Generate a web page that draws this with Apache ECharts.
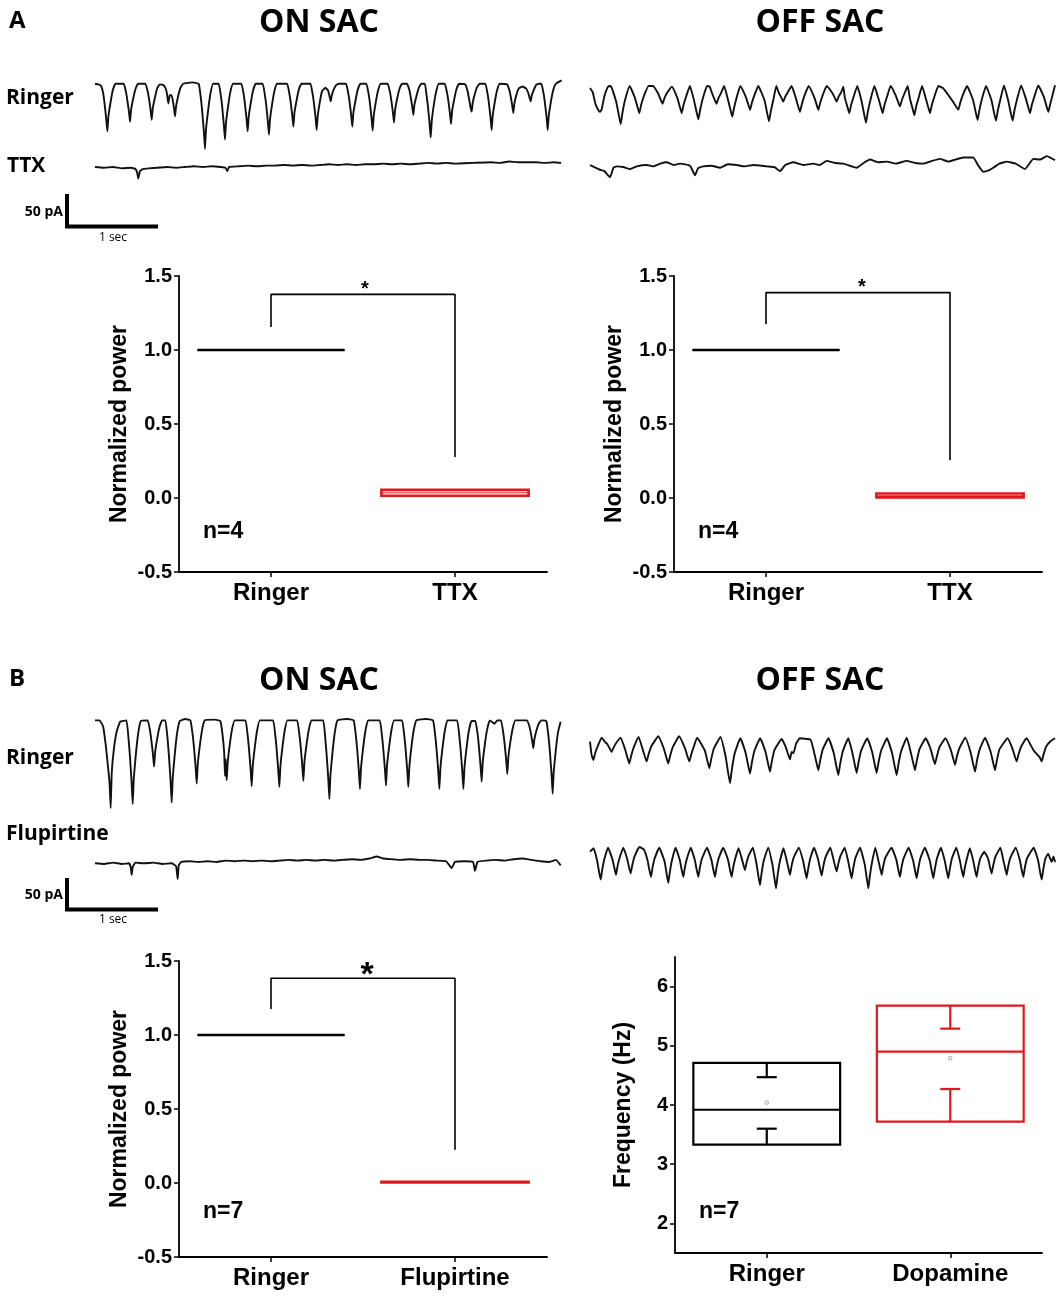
<!DOCTYPE html>
<html>
<head>
<meta charset="UTF-8">
<script src="https://cdn.jsdelivr.net/npm/echarts@6/dist/echarts.min.js"></script>
<title>SAC waves</title>
<style>
  body { margin: 0; background: #fff; }
  #main { width: 1064px; height: 1300px; }
</style>
</head>
<body>
<div id="main"></div>
<script type="text/javascript">
// ---- recordings: [time (s), current (pA)] ----
var onRingerA = [[0,-3],[0.04,-4],[0.067,-6],[0.092,-18],[0.107,-33],[0.125,-55],[0.137,-73],[0.149,-51],[0.172,-31],[0.197,-13],[0.227,-3],
  [0.319,-3],[0.344,-15],[0.359,-27],[0.377,-44],[0.389,-59],[0.401,-41],[0.424,-25],[0.449,-11],[0.479,-3],
  [0.56,-3],[0.585,-14],[0.60,-25],[0.618,-42],[0.63,-56],[0.642,-39],[0.665,-24],[0.69,-10],[0.72,-4],
  [0.76,-5],[0.785,-10],[0.80,-18],[0.815,-32],[0.83,-20],[0.85,-20],[0.865,-28],[0.877,-38],[0.889,-51],[0.901,-36],[0.924,-21],[0.949,-9],[0.979,-3],[1.08,-1],
  [1.152,-3],[1.177,-25],[1.192,-45],[1.21,-74],[1.222,-99],[1.234,-69],[1.257,-42],[1.282,-18],[1.312,-3],
  [1.374,-3],[1.399,-21],[1.414,-38],[1.432,-64],[1.444,-85],[1.456,-60],[1.479,-36],[1.504,-15],[1.534,-3],
  [1.626,-3],[1.651,-18],[1.666,-33],[1.684,-55],[1.696,-73],[1.708,-51],[1.731,-31],[1.756,-13],[1.786,-3],
  [1.863,-3],[1.888,-20],[1.903,-35],[1.921,-59],[1.933,-78],[1.945,-55],[1.968,-33],[1.993,-14],[2.023,-3],
  [2.134,-3],[2.159,-17],[2.174,-30],[2.192,-50],[2.204,-66],[2.216,-46],[2.239,-28],[2.264,-12],[2.294,-3],
  [2.393,-3],[2.418,-18],[2.433,-32],[2.451,-53],[2.463,-71],[2.475,-50],[2.498,-30],[2.523,-14],[2.56,-9],[2.59,-13],[2.607,-22],[2.619,-29],[2.631,-20],[2.654,-11],[2.68,-5],[2.71,-3],
  [2.789,-3],[2.814,-17],[2.829,-30],[2.847,-50],[2.859,-66],[2.871,-46],[2.894,-28],[2.919,-12],[2.949,-3],
  [3.015,-3],[3.04,-18],[3.055,-32],[3.073,-54],[3.085,-72],[3.097,-50],[3.12,-30],[3.145,-13],[3.175,-3],
  [3.252,-3],[3.277,-15],[3.292,-27],[3.31,-45],[3.322,-60],[3.334,-42],[3.357,-25],[3.382,-11],[3.412,-3],
  [3.467,-3],[3.492,-12],[3.507,-22],[3.525,-37],[3.537,-49],[3.549,-34],[3.572,-21],[3.597,-9],[3.627,-3],
  [3.665,-3],[3.685,-21],[3.70,-37],[3.718,-62],[3.73,-82],[3.742,-57],[3.765,-34],[3.79,-15],[3.82,-3],
  [3.886,-3],[3.911,-16],[3.926,-28],[3.944,-47],[3.956,-62],[3.968,-43],[3.991,-26],[4.016,-11],[4.046,-3],
  [4.115,-4],[4.14,-14],[4.16,-28],[4.173,-38],[4.185,-44],[4.197,-31],[4.22,-18],[4.245,-8],[4.275,-3],
  [4.337,-3],[4.362,-18],[4.377,-32],[4.395,-53],[4.407,-71],[4.419,-50],[4.442,-30],[4.467,-13],[4.497,-3],
  [4.578,-4],[4.603,-12],[4.618,-21],[4.636,-35],[4.648,-46],[4.66,-32],[4.683,-19],[4.708,-10],[4.75,-7],[4.79,-10],[4.815,-17],[4.829,-24],[4.841,-29],[4.853,-20],[4.876,-12],[4.9,-5],[4.93,-3],
  [4.96,-3],[4.985,-18],[5.0,-32],[5.018,-53],[5.03,-71],[5.042,-50],[5.065,-30],[5.09,-13],[5.12,-3],[5.185,2]];
var onTtxA = [[0,0],[0.1,-1],[0.2,0],[0.3,-2],[0.4,-1],[0.45,-3],[0.47,-9],[0.48,-17],[0.50,-6],[0.53,-3],[0.6,-2],[0.7,-1],[0.8,0],[0.9,-1],[1.0,0],[1.1,1],[1.2,0],[1.3,1],[1.4,0],[1.45,-1],[1.47,-6],[1.49,0],[1.6,1],[1.7,2],[1.8,1],[1.9,2],[2.0,2],[2.1,3],[2.2,2],[2.3,3],[2.4,2],[2.5,3],[2.6,4],[2.7,3],[2.8,4],[2.9,3],[3.0,4],[3.1,4],[3.2,5],[3.3,4],[3.4,5],[3.5,4],[3.6,5],[3.7,6],[3.8,5],[3.9,6],[4.0,5],[4.2,6],[4.4,7],[4.5,6],[4.6,8],[4.7,7],[4.8,7],[4.9,7],[5.0,6],[5.1,7],[5.18,6]];
var offRingerA = [[0,-2],[0.03,-8],[0.06,-25],[0.09,-34],[0.111,-37],[0.13,-33],[0.16,-14],[0.2,0],[0.23,1],
  [0.291,-22],[0.319,-41],[0.341,-55],[0.361,-38],[0.391,-19],[0.44,1],
  [0.498,-16],[0.526,-29],[0.548,-39],[0.568,-27],[0.598,-14],[0.65,1],[0.70,1],
  [0.757,-10],[0.785,-19],[0.807,-25],[0.827,-17],[0.857,-9],[0.91,0],
  [0.969,-16],[0.997,-29],[1.019,-39],[1.039,-27],[1.069,-14],[1.11,1],
  [1.154,-19],[1.182,-36],[1.204,-48],[1.224,-34],[1.254,-17],[1.30,1],[1.33,0],
  [1.357,-10],[1.385,-19],[1.407,-25],[1.427,-17],[1.457,-9],[1.49,1],
  [1.531,-18],[1.559,-33],[1.581,-44],[1.601,-31],[1.631,-15],[1.67,1],
  [1.728,-14],[1.756,-25],[1.778,-34],[1.798,-24],[1.828,-12],[1.87,1],
  [1.939,-20],[1.967,-38],[1.989,-51],[2.009,-36],[2.039,-18],[2.07,1],
  [2.098,-9],[2.126,-16],[2.148,-22],[2.168,-15],[2.198,-8],[2.24,1],
  [2.283,-15],[2.311,-28],[2.333,-37],[2.353,-26],[2.383,-13],[2.43,1],
  [2.487,-14],[2.515,-25],[2.537,-34],[2.557,-24],[2.587,-12],[2.63,1],
  [2.691,-9],[2.719,-16],[2.741,-22],[2.761,-15],[2.791,-8],[2.815,0],
  [2.831,-16],[2.859,-29],[2.881,-39],[2.901,-27],[2.931,-14],[2.97,1],
  [3.017,-21],[3.045,-40],[3.067,-53],[3.087,-37],[3.117,-19],[3.16,1],
  [3.202,-16],[3.23,-29],[3.252,-39],[3.272,-27],[3.302,-14],[3.34,1],
  [3.394,-12],[3.422,-22],[3.444,-29],[3.464,-20],[3.494,-10],[3.53,1],
  [3.554,-17],[3.582,-31],[3.604,-42],[3.624,-29],[3.654,-15],[3.69,1],
  [3.728,-16],[3.756,-29],[3.778,-39],[3.798,-27],[3.828,-14],[3.87,1],[3.92,-2],
  [3.98,-12],[4.043,-24],[4.071,-30],[4.093,-34],[4.113,-24],[4.143,-12],[4.19,1],
  [4.257,-20],[4.285,-37],[4.307,-49],[4.327,-34],[4.357,-17],[4.40,1],
  [4.461,-20],[4.489,-38],[4.511,-50],[4.531,-35],[4.561,-18],[4.60,2],
  [4.646,-20],[4.674,-38],[4.696,-50],[4.716,-35],[4.746,-18],[4.79,2],
  [4.839,-16],[4.867,-29],[4.889,-39],[4.909,-27],[4.939,-14],[4.98,2],
  [5.043,-15],[5.071,-28],[5.093,-37],[5.113,-26],[5.14,-12],[5.167,2]];
var offTtxA = [[0,0],[0.06,-4],[0.111,-7],[0.16,-9],[0.222,-18],[0.26,-4],[0.296,-2],[0.37,-3],[0.444,-6],[0.52,-2],[0.63,0],[0.70,-2],[0.78,2],[0.852,4],[0.93,0],[1.0,2],[1.111,-1],[1.167,-15],[1.20,-5],[1.259,-2],[1.35,-1],[1.444,-4],[1.53,1],[1.63,0],[1.72,-2],[1.815,0],[1.963,-2],[2.05,-3],[2.111,-9],[2.17,0],[2.259,4],[2.37,0],[2.481,2],[2.55,0],[2.63,6],[2.72,3],[2.815,2],[2.963,-4],[3.04,3],[3.111,8],[3.2,4],[3.296,5],[3.40,2],[3.519,6],[3.61,3],[3.704,2],[3.80,6],[3.889,9],[3.98,5],[4.06,8],[4.148,11],[4.259,11],[4.31,0],[4.37,-10],[4.43,-8],[4.481,-4],[4.55,2],[4.63,5],[4.73,2],[4.833,-6],[4.926,9],[5.0,8],[5.074,13],[5.167,7]];
var onRingerB = [[0,-3],[0.05,-3],[0.09,-12],[0.12,-40],[0.148,-76],[0.162,-95],[0.174,-132],[0.186,-80],[0.21,-45],[0.24,-20],[0.28,-5],
  [0.349,-3],[0.374,-32],[0.389,-57],[0.407,-95],[0.419,-126],[0.431,-88],[0.454,-53],[0.479,-23],[0.509,-4],
  [0.586,-3],[0.611,-18],[0.626,-32],[0.644,-53],[0.656,-71],[0.668,-50],[0.691,-30],[0.716,-13],[0.746,-3],
  [0.782,-3],[0.807,-31],[0.822,-56],[0.84,-93],[0.852,-124],[0.864,-87],[0.887,-52],[0.912,-22],[0.942,-4],[1.0,-1],
  [1.06,-3],[1.085,-24],[1.10,-43],[1.118,-72],[1.13,-96],[1.142,-67],[1.165,-40],[1.19,-17],[1.22,-3],[1.33,-2],
  [1.393,-4],[1.418,-25],[1.435,-50],[1.445,-85],[1.452,-60],[1.463,-91],[1.475,-64],[1.498,-38],[1.523,-16],[1.553,-3],
  [1.671,-3],[1.696,-25],[1.711,-45],[1.729,-75],[1.741,-100],[1.753,-70],[1.776,-42],[1.801,-18],[1.831,-3],
  [1.978,-3],[2.003,-25],[2.018,-45],[2.036,-76],[2.048,-101],[2.06,-71],[2.083,-42],[2.108,-18],[2.138,-3],
  [2.245,-3],[2.27,-23],[2.285,-41],[2.303,-69],[2.315,-92],[2.327,-64],[2.35,-39],[2.375,-17],[2.405,-3],
  [2.534,-3],[2.559,-30],[2.574,-54],[2.592,-89],[2.604,-119],[2.616,-83],[2.639,-50],[2.664,-21],[2.694,-3],[2.8,-1],
  [2.874,-3],[2.899,-26],[2.914,-47],[2.932,-78],[2.944,-104],[2.956,-73],[2.979,-44],[3.004,-19],[3.034,-3],
  [3.163,-3],[3.188,-25],[3.203,-45],[3.221,-74],[3.233,-99],[3.245,-69],[3.268,-42],[3.293,-18],[3.323,-3],
  [3.411,-3],[3.436,-25],[3.451,-45],[3.469,-76],[3.481,-101],[3.493,-71],[3.516,-42],[3.541,-18],[3.571,-3],[3.68,-1],
  [3.756,-3],[3.781,-26],[3.796,-47],[3.814,-78],[3.826,-104],[3.838,-73],[3.861,-44],[3.886,-19],[3.916,-3],
  [4.023,-3],[4.048,-26],[4.063,-47],[4.081,-78],[4.093,-104],[4.105,-73],[4.128,-44],[4.153,-19],[4.183,-4],
  [4.226,-4],[4.251,-23],[4.266,-42],[4.284,-70],[4.296,-93],[4.308,-65],[4.331,-39],[4.356,-17],[4.386,-3],[4.44,-8],[4.47,-3],
  [4.511,-3],[4.536,-21],[4.551,-37],[4.569,-62],[4.581,-82],[4.593,-57],[4.616,-34],[4.641,-15],[4.671,-3],
  [4.80,-3],[4.825,-11],[4.84,-20],[4.858,-33],[4.87,-44],[4.882,-31],[4.905,-18],[4.93,-8],[4.96,-3],
  [5.015,-4],[5.04,-28],[5.055,-50],[5.073,-83],[5.085,-111],[5.097,-78],[5.12,-47],[5.145,-20],[5.174,-5]];
var flupirtineB = [[0,0],[0.1,-1],[0.2,1],[0.3,-1],[0.38,0],[0.40,-8],[0.407,-17],[0.42,-5],[0.45,1],[0.55,0],[0.65,1],[0.75,-1],[0.85,0],[0.90,-4],[0.919,-23],[0.93,-3],[0.96,2],[1.05,3],[1.15,2],[1.25,3],[1.35,2],[1.45,4],[1.55,3],[1.65,4],[1.75,3],[1.85,4],[1.95,3],[2.05,4],[2.15,5],[2.25,4],[2.35,5],[2.45,4],[2.55,5],[2.65,4],[2.75,5],[2.85,6],[2.95,5],[3.05,7],[3.13,10],[3.2,7],[3.3,6],[3.4,5],[3.5,6],[3.6,5],[3.7,5],[3.8,4],[3.9,3],[3.963,-7],[4.0,2],[4.1,3],[4.2,2],[4.222,-11],[4.25,2],[4.35,4],[4.45,5],[4.55,4],[4.65,6],[4.75,7],[4.85,5],[4.95,3],[5.05,2],[5.12,5],[5.174,-3]];
var offRingerB = [[0,-5],[0.017,-24],[0.037,-32],[0.057,-22],[0.087,-11],[0.13,1],
  [0.17,-6],[0.19,-8],[0.219,-15],[0.241,-20],[0.261,-14],[0.291,-7],[0.34,1],
  [0.387,-15],[0.415,-28],[0.437,-37],[0.457,-26],[0.487,-13],[0.54,2],
  [0.58,-14],[0.608,-26],[0.63,-34],[0.65,-24],[0.68,-12],[0.76,3],
  [0.82,-15],[0.848,-28],[0.87,-37],[0.89,-26],[0.92,-13],[0.99,3],
  [1.054,-14],[1.082,-26],[1.104,-34],[1.124,-24],[1.154,-12],[1.19,1],
  [1.276,-18],[1.304,-33],[1.326,-44],[1.346,-31],[1.376,-15],[1.45,2],
  [1.506,-26],[1.534,-50],[1.556,-66],[1.576,-46],[1.606,-23],[1.67,0],
  [1.728,-21],[1.756,-39],[1.778,-52],[1.798,-36],[1.828,-18],[1.89,0],
  [1.95,-20],[1.978,-37],[2.0,-49],[2.02,-34],[2.05,-17],[2.13,-1],
  [2.172,-12],[2.20,-23],[2.222,-31],[2.24,-20],[2.26,-22],[2.29,-8],[2.33,0],[2.45,-2],
  [2.487,-19],[2.515,-35],[2.537,-47],[2.557,-33],[2.587,-16],[2.65,0],
  [2.709,-22],[2.737,-41],[2.759,-54],[2.779,-38],[2.809,-19],[2.87,0],
  [2.913,-20],[2.941,-38],[2.963,-51],[2.983,-36],[3.013,-18],[3.08,0],
  [3.135,-20],[3.163,-38],[3.185,-51],[3.205,-36],[3.235,-18],[3.30,0],
  [3.357,-22],[3.385,-41],[3.407,-54],[3.427,-38],[3.457,-19],[3.52,1],
  [3.561,-19],[3.589,-35],[3.611,-47],[3.631,-33],[3.661,-16],[3.73,0],
  [3.783,-15],[3.811,-29],[3.833,-38],[3.853,-27],[3.883,-13],[3.95,0],
  [4.006,-16],[4.034,-29],[4.056,-39],[4.076,-27],[4.106,-14],[4.17,1],
  [4.228,-20],[4.256,-37],[4.278,-49],[4.298,-34],[4.328,-17],[4.39,1],
  [4.45,-19],[4.478,-35],[4.5,-47],[4.52,-33],[4.55,-16],[4.64,0],
  [4.691,-14],[4.719,-26],[4.741,-34],[4.761,-24],[4.791,-12],[4.85,0],
  [4.93,-18],[4.97,-24],[4.997,-28],[5.019,-34],[5.039,-24],[5.069,-12],[5.12,-4],[5.167,0]];
var dopamineB = [[0,-5],[0.04,0],
  [0.079,-18],[0.101,-35],[0.119,-46],[0.135,-32],[0.159,-16],[0.20,1],
  [0.249,-16],[0.271,-29],[0.289,-39],[0.305,-27],[0.329,-14],[0.37,1],
  [0.412,-15],[0.434,-28],[0.452,-37],[0.468,-26],[0.492,-13],[0.55,2],[0.60,-2],
  [0.638,-17],[0.66,-32],[0.678,-42],[0.694,-29],[0.718,-15],[0.77,1],
  [0.83,-20],[0.852,-38],[0.87,-51],[0.886,-36],[0.91,-18],[0.95,1],
  [0.997,-17],[1.019,-32],[1.037,-42],[1.053,-29],[1.077,-15],[1.12,1],
  [1.164,-17],[1.186,-32],[1.204,-42],[1.22,-29],[1.244,-15],[1.30,1],
  [1.349,-17],[1.371,-32],[1.389,-42],[1.405,-29],[1.429,-15],[1.48,1],
  [1.534,-17],[1.556,-32],[1.574,-42],[1.59,-29],[1.614,-15],[1.65,0],
  [1.682,-13],[1.704,-24],[1.722,-32],[1.738,-22],[1.762,-11],[1.81,1],
  [1.849,-22],[1.871,-41],[1.889,-54],[1.905,-38],[1.929,-19],[1.98,1],
  [2.027,-24],[2.049,-44],[2.067,-59],[2.083,-41],[2.107,-21],[2.15,0],
  [2.182,-16],[2.204,-29],[2.222,-39],[2.238,-27],[2.262,-14],[2.32,1],
  [2.367,-18],[2.389,-33],[2.407,-44],[2.423,-31],[2.447,-15],[2.49,1],
  [2.534,-16],[2.556,-30],[2.574,-40],[2.59,-28],[2.614,-14],[2.67,1],
  [2.701,-14],[2.723,-26],[2.741,-34],[2.757,-24],[2.781,-12],[2.83,1],
  [2.867,-18],[2.889,-33],[2.907,-44],[2.923,-31],[2.947,-15],[3.0,1],
  [3.053,-24],[3.075,-44],[3.093,-59],[3.109,-41],[3.133,-21],[3.17,1],
  [3.201,-16],[3.223,-29],[3.241,-39],[3.257,-27],[3.281,-14],[3.35,1],
  [3.404,-17],[3.426,-32],[3.444,-42],[3.46,-29],[3.484,-15],[3.54,1],
  [3.59,-18],[3.612,-33],[3.63,-44],[3.646,-31],[3.67,-15],[3.72,1],
  [3.775,-18],[3.797,-33],[3.815,-44],[3.831,-31],[3.855,-15],[3.90,1],
  [3.941,-18],[3.963,-33],[3.981,-44],[3.997,-31],[4.021,-15],[4.07,1],
  [4.108,-17],[4.13,-32],[4.148,-42],[4.164,-29],[4.188,-15],[4.22,0],
  [4.256,-17],[4.278,-32],[4.296,-42],[4.312,-29],[4.336,-15],[4.38,-5],
  [4.423,-15],[4.445,-28],[4.463,-37],[4.479,-26],[4.503,-13],[4.56,1],
  [4.59,-16],[4.612,-29],[4.63,-39],[4.646,-27],[4.67,-14],[4.73,1],
  [4.775,-17],[4.797,-32],[4.815,-42],[4.831,-29],[4.855,-15],[4.93,1],
  [4.979,-18],[5.001,-35],[5.019,-46],[5.035,-32],[5.06,-15],[5.09,-8],[5.13,-20],[5.15,-12],[5.167,-20]];

// ---- summary plots ----
var ttxCats = ['Ringer', 'TTX'];
var flupCats = ['Ringer', 'Flupirtine'];
var freqCats = ['Ringer', 'Dopamine'];
var powerTicks = [-0.5, 0, 0.5, 1.0, 1.5];
var freqTicks = [2, 3, 4, 5, 6];
// [category index, low, median, high]
var powerOnA = [[0, 1, 1, 1], [1, 0.015, 0.035, 0.055]];
var powerOffA = [[0, 1, 1, 1], [1, 0.004, 0.015, 0.03]];
var powerOnB = [[0, 1, 1, 1], [1, 0.004, 0.006, 0.008]];
// bracket legs: [left low, bar height, right low]
var bracketOnA = [1.155, 1.376, 0.277];
var bracketOffA = [1.174, 1.388, 0.255];
var bracketOnB = [1.176, 1.383, 0.224];
// [index, box low, lower cap, median, upper cap, box high, mean]
var freqBoxes = [[0, 3.33, 3.6, 3.92, 4.47, 4.71, 4.04], [1, 3.72, 4.27, 4.9, 5.29, 5.68, 4.79]];

var RED = '#e3161d';
var AX = 'Liberation Sans, Arial, sans-serif';
var TX = 'Open Sans, sans-serif';

var myChart = echarts.init(document.getElementById('main'));

var grids = [], xAxes = [], yAxes = [], series = [];

// trace panels: 1 sec = 90 px, 50 pA = 34 px
var traces = [
  { data: onRingerA,   left: 95,  base: 81.7 },
  { data: onTtxA,      left: 95,  base: 167 },
  { data: offRingerA,  left: 590, base: 86.7 },
  { data: offTtxA,     left: 590, base: 165 },
  { data: onRingerB,   left: 95,  base: 718.3 },
  { data: flupirtineB, left: 95,  base: 863.3 },
  { data: offRingerB,  left: 590, base: 738.3 },
  { data: dopamineB,   left: 590, base: 848.3 }
];
traces.forEach(function (tr) {
  var i = grids.length;
  grids.push({ left: tr.left, top: tr.base - 20 * 0.68, width: 5.2 * 90, height: 160 * 0.68, outerBoundsMode: 'none' });
  xAxes.push({ gridIndex: i, type: 'value', min: 0, max: 5.2, show: false });
  yAxes.push({ gridIndex: i, type: 'value', min: -140, max: 20, show: false });
  series.push({
    type: 'line', xAxisIndex: i, yAxisIndex: i, data: tr.data,
    symbol: 'none', smooth: 0.12, silent: true, clip: false,
    lineStyle: { color: '#111', width: 1.9 }
  });
});

function catAxis(i, cats) {
  return {
    gridIndex: i, type: 'category', data: cats, boundaryGap: true,
    axisLine: { onZero: false, lineStyle: { color: '#000', width: 1.8 } },
    axisTick: { show: true, alignWithLabel: true, length: 5, lineStyle: { color: '#000', width: 1.5 } },
    axisLabel: { color: '#000', fontFamily: AX, fontWeight: 'bold', fontSize: 24, margin: 9 },
    splitLine: { show: false }
  };
}
function valAxis(i, min, max, ticks, name, gap, dec) {
  return {
    gridIndex: i, type: 'value', min: min, max: max,
    name: name, nameLocation: 'middle', nameGap: gap,
    nameTextStyle: { color: '#000', fontFamily: AX, fontWeight: 'bold', fontSize: 23 },
    axisLine: { show: true, onZero: false, lineStyle: { color: '#000', width: 1.8 } },
    axisTick: { show: true, length: 5, customValues: ticks, lineStyle: { color: '#000', width: 1.5 } },
    axisLabel: {
      color: '#000', fontFamily: AX, fontWeight: 'bold', fontSize: 20, margin: 7,
      customValues: ticks,
      formatter: function (v) { return v.toFixed(dec); }
    },
    splitLine: { show: false }
  };
}

function boxRender(color, lw) {
  return function (params, api) {
    var lo = api.coord([api.value(0), api.value(1)]);
    var md = api.coord([api.value(0), api.value(2)]);
    var hi = api.coord([api.value(0), api.value(3)]);
    var w = api.size([1, 0])[0] * 0.4;
    return {
      type: 'group',
      children: [
        { type: 'rect', shape: { x: md[0] - w, y: hi[1], width: 2 * w, height: lo[1] - hi[1] },
          style: { fill: 'none', stroke: color, lineWidth: lw } },
        { type: 'line', shape: { x1: md[0] - w, y1: md[1], x2: md[0] + w, y2: md[1] },
          style: { stroke: color, lineWidth: 1 } }
      ]
    };
  };
}

function powerPlot(box, cats, bracket, rect) {
  var i = grids.length;
  grids.push({ left: rect[0], top: rect[1], width: rect[2], height: rect[3], outerBoundsMode: 'none' });
  xAxes.push(catAxis(i, cats));
  yAxes.push(valAxis(i, -0.5, 1.5, powerTicks, 'Normalized power', 48, 1));
  series.push({
    type: 'custom', xAxisIndex: i, yAxisIndex: i, data: [box[0]], silent: true,
    renderItem: boxRender('#000', 2.4)
  });
  series.push({
    type: 'custom', xAxisIndex: i, yAxisIndex: i, data: [box[1]], silent: true,
    renderItem: boxRender(RED, 2.6)
  });
  series.push({
    type: 'line', xAxisIndex: i, yAxisIndex: i, symbol: 'none', silent: true,
    lineStyle: { color: '#000', width: 1.6 },
    data: [[cats[0], bracket[0]], [cats[0], bracket[1]], [cats[1], bracket[1]], [cats[1], bracket[2]]]
  });
}

powerPlot(powerOnA, ttxCats, bracketOnA, [179, 276, 368, 296]);
powerPlot(powerOffA, ttxCats, bracketOffA, [674, 276, 368, 296]);
powerPlot(powerOnB, flupCats, bracketOnB, [179, 961, 368, 296]);

// frequency box plot
(function () {
  var i = grids.length;
  grids.push({ left: 675, top: 957, width: 367, height: 296, outerBoundsMode: 'none' });
  xAxes.push(catAxis(i, freqCats));
  yAxes.push(valAxis(i, 1.5, 6.5, freqTicks, 'Frequency (Hz)', 40, 0));
  series.push({
    type: 'custom', xAxisIndex: i, yAxisIndex: i, data: freqBoxes, silent: true,
    renderItem: function (params, api) {
      var idx = api.value(0);
      var color = idx === 0 ? '#000' : RED;
      var p = [1, 2, 3, 4, 5, 6].map(function (k) { return api.coord([idx, api.value(k)]); });
      var x = p[0][0];
      var w = api.size([1, 0])[0] * 0.4;
      var cw = 10;
      var st = { stroke: color, lineWidth: 2.2 };
      return {
        type: 'group',
        children: [
          { type: 'rect', shape: { x: x - w, y: p[4][1], width: 2 * w, height: p[0][1] - p[4][1] }, style: { fill: 'none', stroke: color, lineWidth: 2.2 } },
          { type: 'line', shape: { x1: x - w, y1: p[2][1], x2: x + w, y2: p[2][1] }, style: st },
          { type: 'line', shape: { x1: x, y1: p[0][1], x2: x, y2: p[1][1] }, style: st },
          { type: 'line', shape: { x1: x - cw, y1: p[1][1], x2: x + cw, y2: p[1][1] }, style: st },
          { type: 'line', shape: { x1: x, y1: p[4][1], x2: x, y2: p[3][1] }, style: st },
          { type: 'line', shape: { x1: x - cw, y1: p[3][1], x2: x + cw, y2: p[3][1] }, style: st },
          { type: 'rect', shape: { x: x - 1.5, y: p[5][1] - 1.5, width: 3, height: 3 }, style: { fill: 'none', stroke: '#999', lineWidth: 0.8 } }
        ]
      };
    }
  });
})();

function txt(s, x, y, size, opt) {
  opt = opt || {};
  return {
    type: 'text', x: x, y: y, silent: true,
    style: {
      text: s, fill: '#000', font: (opt.weight || 'bold') + ' ' + size + 'px ' + (opt.family || TX),
      textAlign: opt.align || 'left', textVerticalAlign: 'middle'
    }
  };
}
function bar(x1, y1, x2, y2) {
  return { type: 'line', silent: true, shape: { x1: x1, y1: y1, x2: x2, y2: y2 }, style: { stroke: '#000', lineWidth: 4 } };
}

var graphics = [
  txt('A', 9, 21, 24),
  txt('B', 9, 679, 24),
  txt('ON SAC', 319, 23, 32, { align: 'center' }),
  txt('OFF SAC', 820, 23, 32, { align: 'center' }),
  txt('ON SAC', 319, 681, 32, { align: 'center' }),
  txt('OFF SAC', 820, 681, 32, { align: 'center' }),
  txt('Ringer', 6, 98, 21),
  txt('TTX', 7, 166, 21),
  txt('Ringer', 6, 758, 21),
  txt('Flupirtine', 6, 834, 21),
  txt('50 pA', 63, 212, 14, { align: 'right' }),
  txt('1 sec', 113, 238, 12, { align: 'center', weight: 'normal' }),
  txt('50 pA', 63, 895, 14, { align: 'right' }),
  txt('1 sec', 113, 920, 12, { align: 'center', weight: 'normal' }),
  bar(67, 194, 67, 228), bar(65, 226.5, 158, 226.5),
  bar(67, 878, 67, 911), bar(65, 909.5, 158, 909.5),
  txt('*', 365, 289, 20, { align: 'center', family: AX }),
  txt('*', 862, 287, 20, { align: 'center', family: AX }),
  txt('*', 367, 976, 34, { align: 'center', family: AX }),
  txt('n=4', 203, 532, 23, { family: AX }),
  txt('n=4', 698, 532, 23, { family: AX }),
  txt('n=7', 203, 1212, 23, { family: AX }),
  txt('n=7', 699, 1212, 23, { family: AX })
];

myChart.setOption({
  animation: false,
  backgroundColor: '#fff',
  grid: grids,
  xAxis: xAxes,
  yAxis: yAxes,
  series: series,
  graphic: graphics
});
</script>
</body>
</html>
